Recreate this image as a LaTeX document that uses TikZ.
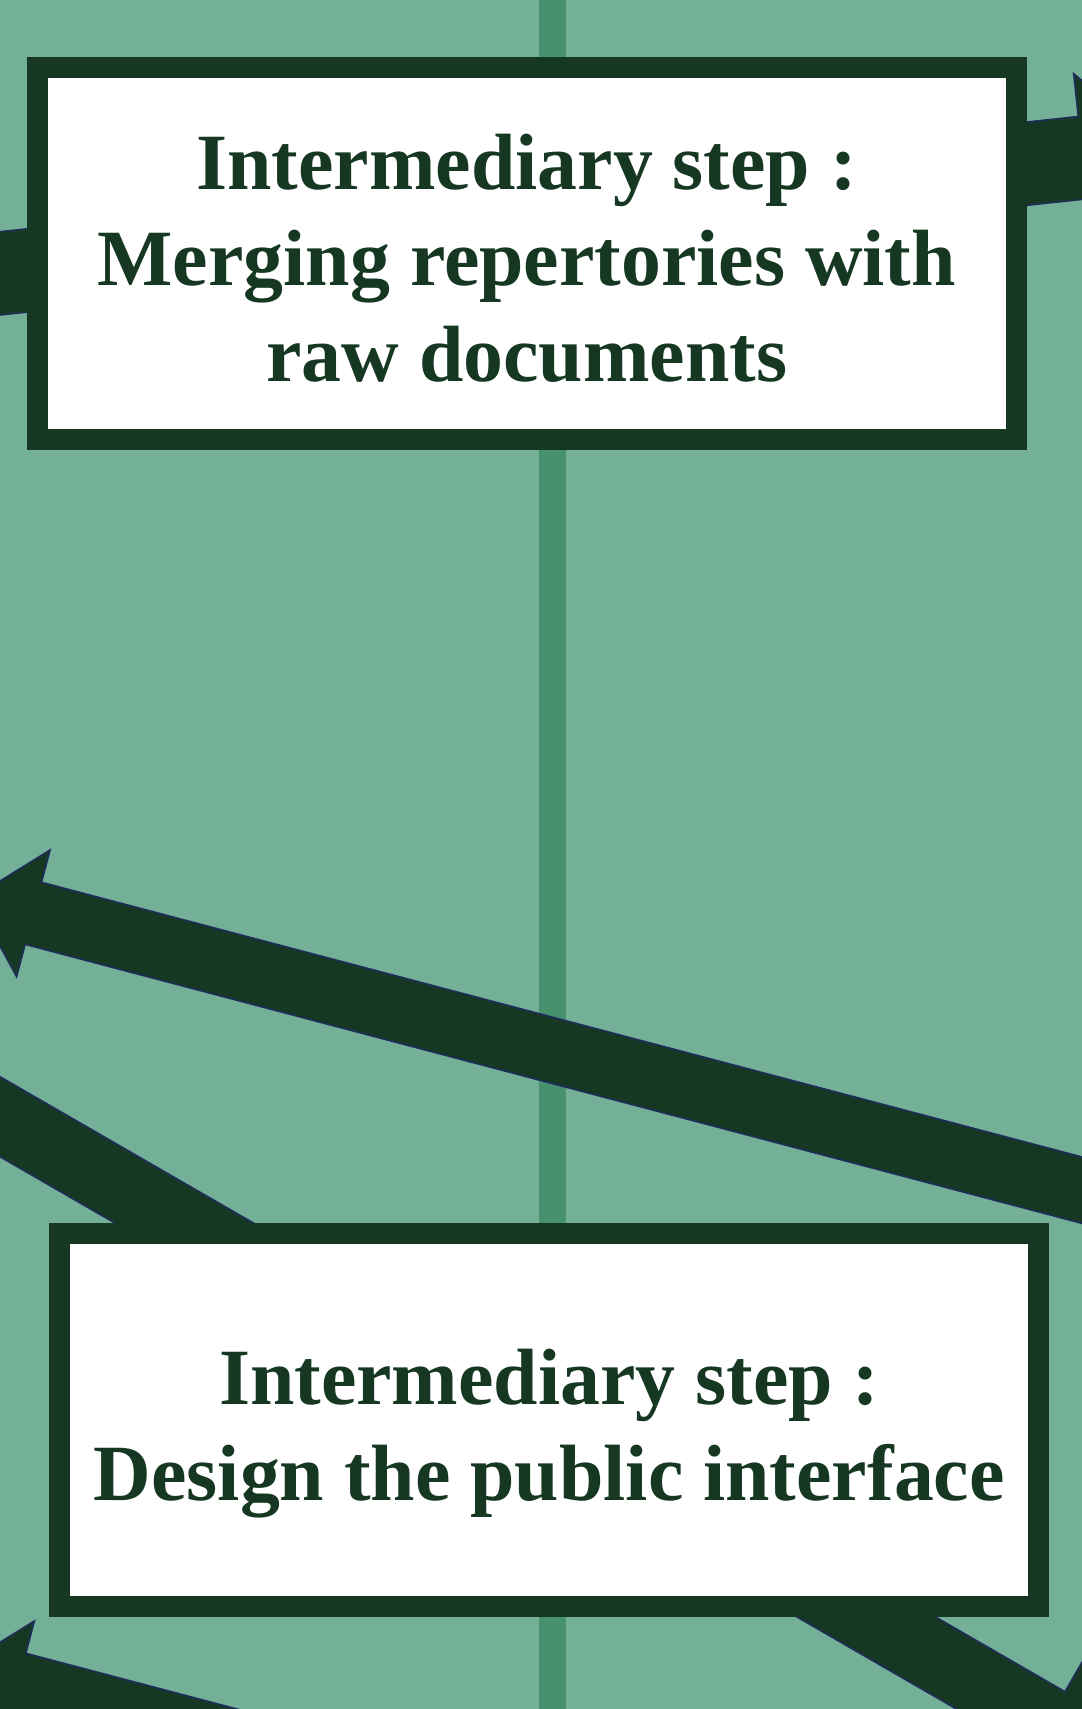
\documentclass[tikz,border=0pt]{standalone}
\usepackage{fontspec}
\setmainfont{Liberation Serif}
\usetikzlibrary{calc}
\definecolor{bgc}{RGB}{116,175,151}
\definecolor{vlc}{RGB}{72,145,111}
\definecolor{dk}{RGB}{22,56,35}
\definecolor{nv}{RGB}{30,45,90}
\tikzset{
  arrowbody/.style={fill=dk, draw=nv, line width=1.6pt, line join=miter},
  stepbox/.style={draw=dk, fill=white, line width=21pt, rectangle, inner sep=0pt},
  steptext/.style={text=dk, align=center, inner sep=0pt, font=\bfseries\fontsize{79.8}{96}\selectfont},
  lifeline/.style={draw=vlc, line width=26.4pt}
}
\newcommand{\flexarr}[5]{%
  \coordinate (hb) at ($(#2)!#5!(#1)$);
  \filldraw[arrowbody] ($(#1)!#3!90:(#2)$) -- ($(hb)!#3!90:(#2)$) -- ($(hb)!#4!90:(#2)$) -- (#2)
    -- ($(hb)!#4!-90:(#2)$) -- ($(hb)!#3!-90:(#2)$) -- ($(#1)!#3!-90:(#2)$) -- cycle;
}
\begin{document}
\begin{tikzpicture}[x=1pt,y=-1pt]
\useasboundingbox (0,0) rectangle (1082,1709);
\clip (0,0) rectangle (1082,1709);
\fill[bgc] (0,0) rectangle (1082,1709);
% lifeline
\coordinate (ltop) at (552.5,-20);
\coordinate (lbot) at (552.5,1730);
\draw[lifeline] (ltop) -- (lbot);
% arrow coordinates
\coordinate (a1s) at (-150,289.4);
\coordinate (a1t) at (1165.0,148.9);
\coordinate (a2s) at (1200,1221.3);
\coordinate (a2t) at (-26.6,897.5);
\coordinate (a3s) at (-200,1001.2);
\coordinate (a3t) at (1105.7,1755.2);
\coordinate (a4s) at (600,1838);
\coordinate (a4t) at (-42.3,1668.5);
\flexarr{a1s}{a1t}{41.4pt}{84.4pt}{82.8pt}
\flexarr{a2s}{a2t}{32.1pt}{65.5pt}{62pt}
\flexarr{a3s}{a3t}{34.64pt}{70.6pt}{67pt}
\flexarr{a4s}{a4t}{32.1pt}{65.5pt}{62pt}
% boxes
\node[stepbox, minimum width=979pt, minimum height=371.7pt] (box1) at (526.7,253.65) {};
\node[stepbox, minimum width=978.9pt, minimum height=372.4pt] (box2) at (549.25,1420) {};
\node[steptext, anchor=base] (txt1) at (526.7,381.7) {Intermediary step :\\Merging repertories with\\raw documents};
\node[steptext, anchor=base] (txt2) at (549.25,1500) {Intermediary step :\\Design the public interface};
\end{tikzpicture}
\end{document}
